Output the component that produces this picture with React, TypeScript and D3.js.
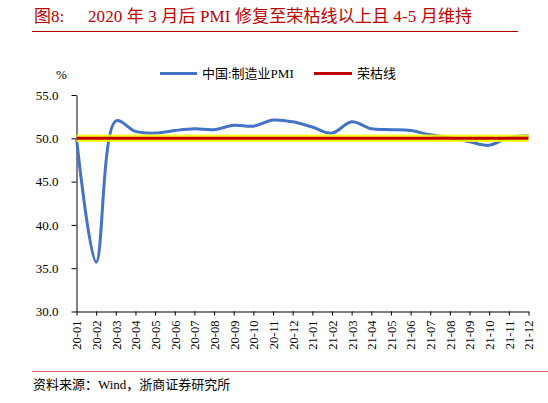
import React, { useEffect, useRef } from 'react';
import * as d3 from 'd3';

const months = [
  '20-01', '20-02', '20-03', '20-04', '20-05', '20-06', '20-07', '20-08', '20-09', '20-10', '20-11', '20-12',
  '21-01', '21-02', '21-03', '21-04', '21-05', '21-06', '21-07', '21-08', '21-09', '21-10', '21-11', '21-12',
];
const pmi = [
  50.0, 35.7, 52.0, 50.8, 50.6, 50.9, 51.1, 51.0, 51.5, 51.4, 52.1, 51.9,
  51.3, 50.6, 51.9, 51.1, 51.0, 50.9, 50.4, 50.1, 49.6, 49.2, 50.1, 50.3,
];
const rongku = months.map(() => 50);
const yTicks = [30, 35, 40, 45, 50, 55];

const W = 548;
const H = 403;
const SERIF = '"Liberation Serif", "Times New Roman", "Noto Sans CJK SC", serif';

const App: React.FC = () => {
  const svgRef = useRef<SVGSVGElement>(null);

  useEffect(() => {
    const svg = d3.select(svgRef.current);
    svg.selectAll('*').remove();

    const left = 76.5;
    const right = 528.5;
    const top = 95;
    const bottom = 311.5;

    const x = d3.scalePoint<string>().domain(months).range([left, right]);
    const y = d3.scaleLinear().domain([30, 55]).range([bottom, top]);

    // title
    svg.append('text')
      .attr('x', 34).attr('y', 22)
      .attr('font-family', SERIF).attr('font-size', 17)
      .attr('fill', '#c00000')
      .text('图8:');
    svg.append('text')
      .attr('x', 88).attr('y', 22)
      .attr('font-family', SERIF).attr('font-size', 17)
      .attr('fill', '#c00000')
      .attr('textLength', 384).attr('lengthAdjust', 'spacing')
      .text('2020 年 3 月后 PMI 修复至荣枯线以上且 4-5 月维持');
    svg.append('line')
      .attr('x1', 32).attr('x2', 518).attr('y1', 31.5).attr('y2', 31.5)
      .attr('stroke', '#b00000').attr('stroke-width', 1.2);

    // unit + legend
    svg.append('text')
      .attr('x', 56).attr('y', 79)
      .attr('font-family', SERIF).attr('font-size', 13)
      .text('%');
    svg.append('line')
      .attr('x1', 160).attr('x2', 197).attr('y1', 73.5).attr('y2', 73.5)
      .attr('stroke', '#4472c4').attr('stroke-width', 3);
    svg.append('text')
      .attr('x', 202).attr('y', 78)
      .attr('font-family', SERIF).attr('font-size', 13)
      .text('中国:制造业PMI');
    svg.append('line')
      .attr('x1', 314).attr('x2', 352).attr('y1', 73.5).attr('y2', 73.5)
      .attr('stroke', '#c00000').attr('stroke-width', 3);
    svg.append('text')
      .attr('x', 357).attr('y', 78)
      .attr('font-family', SERIF).attr('font-size', 13)
      .text('荣枯线');

    // axes
    const yAxis = svg.append('g')
      .attr('transform', `translate(${left},0)`)
      .call(d3.axisLeft(y).tickValues(yTicks).tickFormat(d3.format('.1f')).tickSize(5).tickSizeOuter(0).tickPadding(13));
    yAxis.selectAll('text').attr('font-family', SERIF).attr('font-size', 13).attr('fill', '#000');

    const xAxis = svg.append('g')
      .attr('transform', `translate(0,${bottom})`)
      .call(d3.axisBottom(x).tickSize(4).tickSizeOuter(0));
    xAxis.selectAll('.tick text')
      .attr('font-family', SERIF).attr('font-size', 12.5).attr('fill', '#000')
      .attr('text-anchor', 'end')
      .attr('y', 0).attr('dy', '0.35em')
      .attr('transform', 'translate(0,9) rotate(-90)');

    svg.selectAll('.domain, .tick line').attr('stroke', '#000').attr('stroke-width', 1);

    // series
    const line = d3.line<number>()
      .x((_d, i) => x(months[i]) as number)
      .y(d => y(d));

    svg.append('path')
      .attr('d', line.curve(d3.curveCatmullRom.alpha(0.5))(pmi) as string)
      .attr('fill', 'none').attr('stroke', '#4472c4').attr('stroke-width', 3);

    const flat = line.curve(d3.curveLinear)(rongku) as string;
    svg.append('path')
      .attr('d', flat)
      .attr('fill', 'none').attr('stroke', '#ffff00').attr('stroke-opacity', 0.85).attr('stroke-width', 7.5);
    svg.append('path')
      .attr('d', flat)
      .attr('fill', 'none').attr('stroke', '#c00000').attr('stroke-width', 3);

    // footer
    svg.append('line')
      .attr('x1', 32).attr('x2', 548).attr('y1', 371.5).attr('y2', 371.5)
      .attr('stroke', '#e06060').attr('stroke-width', 1.2);
    svg.append('text')
      .attr('x', 33).attr('y', 389)
      .attr('font-family', SERIF).attr('font-size', 13)
      .text('资料来源：Wind，浙商证券研究所');
  }, []);

  return (
    <svg
      ref={svgRef}
      width={W}
      height={H}
      style={{ position: 'absolute', left: 0, top: 0, background: '#fff' }}
    />
  );
};

export default App;
